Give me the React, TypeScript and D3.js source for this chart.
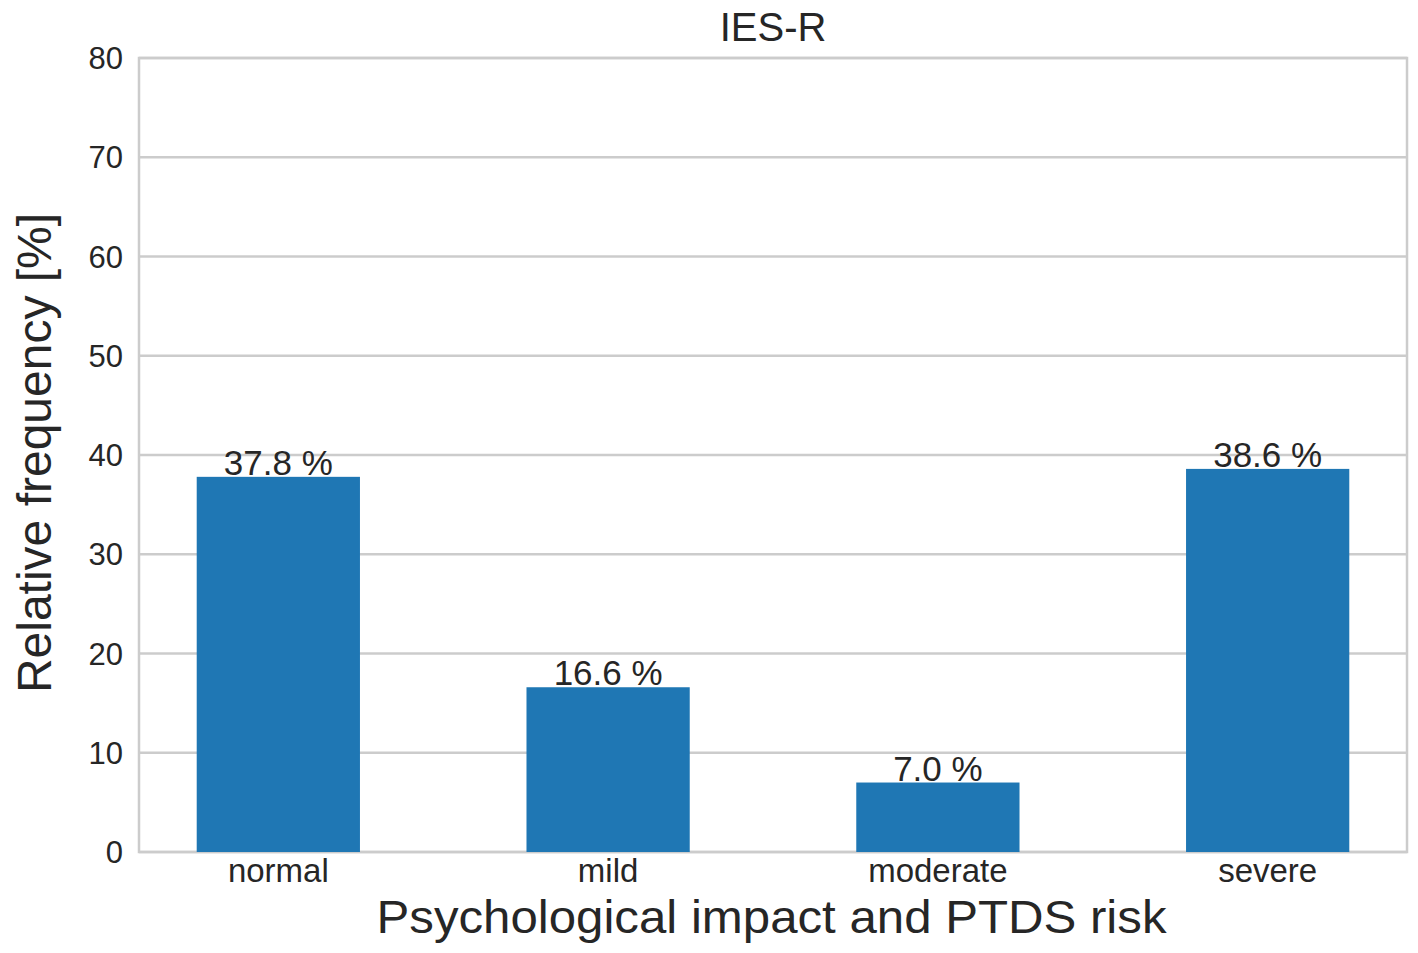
import { scaleBand, scaleLinear } from "d3";

const categories = ["normal", "mild", "moderate", "severe"];
const values = [37.8, 16.6, 7.0, 38.6];
const yTicks = [0, 10, 20, 30, 40, 50, 60, 70, 80];

const WIDTH = 1418;
const HEIGHT = 953;
const margin = { left: 139, right: 11, top: 58, bottom: 101 };

const FONT = "'Liberation Sans', Arial, Helvetica, sans-serif";
const TEXT = "#262626";
const GRID = "#cccccc";
const BAR = "#1f77b4";

export default function App() {
  const x = scaleBand<string>()
    .domain(categories)
    .range([margin.left, WIDTH - margin.right])
    .paddingInner(0.505)
    .paddingOuter(0.175);

  const y = scaleLinear()
    .domain([0, 80])
    .range([HEIGHT - margin.bottom, margin.top]);

  const plotLeft = margin.left;
  const plotRight = WIDTH - margin.right;
  const plotTop = margin.top;
  const plotBottom = HEIGHT - margin.bottom;
  const midX = (plotLeft + plotRight) / 2;
  const midY = (plotTop + plotBottom) / 2;

  return (
    <svg
      width={WIDTH}
      height={HEIGHT}
      style={{ position: "absolute", left: 0, top: 0, background: "#fff" }}
      fontFamily={FONT}
    >
      <rect x={0} y={0} width={WIDTH} height={HEIGHT} fill="#fff" />

      {/* horizontal grid */}
      {yTicks.map((t) => (
        <line
          key={`g-${t}`}
          x1={plotLeft}
          x2={plotRight}
          y1={y(t)}
          y2={y(t)}
          stroke={GRID}
          strokeWidth={2.5}
        />
      ))}

      {/* frame */}
      <rect
        x={plotLeft}
        y={plotTop}
        width={plotRight - plotLeft}
        height={plotBottom - plotTop}
        fill="none"
        stroke={GRID}
        strokeWidth={2.5}
      />

      {/* bars */}
      {categories.map((c, i) => (
        <rect
          key={`b-${c}`}
          x={x(c)}
          y={y(values[i])}
          width={x.bandwidth()}
          height={y(0) - y(values[i])}
          fill={BAR}
        />
      ))}

      {/* bar labels */}
      {categories.map((c, i) => (
        <text
          key={`l-${c}`}
          x={(x(c) ?? 0) + x.bandwidth() / 2}
          y={y(values[i]) - 2}
          textAnchor="middle"
          fontSize={35}
          fill={TEXT}
        >
          {`${values[i].toFixed(1)} %`}
        </text>
      ))}

      {/* y ticks */}
      {yTicks.map((t) => (
        <text
          key={`yt-${t}`}
          x={plotLeft - 16}
          y={y(t)}
          dy="0.36em"
          textAnchor="end"
          fontSize={31}
          fill={TEXT}
        >
          {t}
        </text>
      ))}

      {/* x ticks */}
      {categories.map((c) => (
        <text
          key={`xt-${c}`}
          x={(x(c) ?? 0) + x.bandwidth() / 2}
          y={plotBottom + 30}
          textAnchor="middle"
          fontSize={33}
          fill={TEXT}
        >
          {c}
        </text>
      ))}

      {/* title */}
      <text x={midX} y={41} textAnchor="middle" fontSize={40} fill={TEXT}>
        IES-R
      </text>

      {/* axis labels */}
      <text
        x={(375 + 1168) / 2}
        y={933}
        textAnchor="middle"
        fontSize={46}
        textLength={790}
        lengthAdjust="spacingAndGlyphs"
        fill={TEXT}
      >
        Psychological impact and PTDS risk
      </text>
      <text
        transform={`translate(51, ${midY - 2}) rotate(-90)`}
        textAnchor="middle"
        fontSize={48}
        fill={TEXT}
      >
        Relative frequency [%]
      </text>
    </svg>
  );
}
